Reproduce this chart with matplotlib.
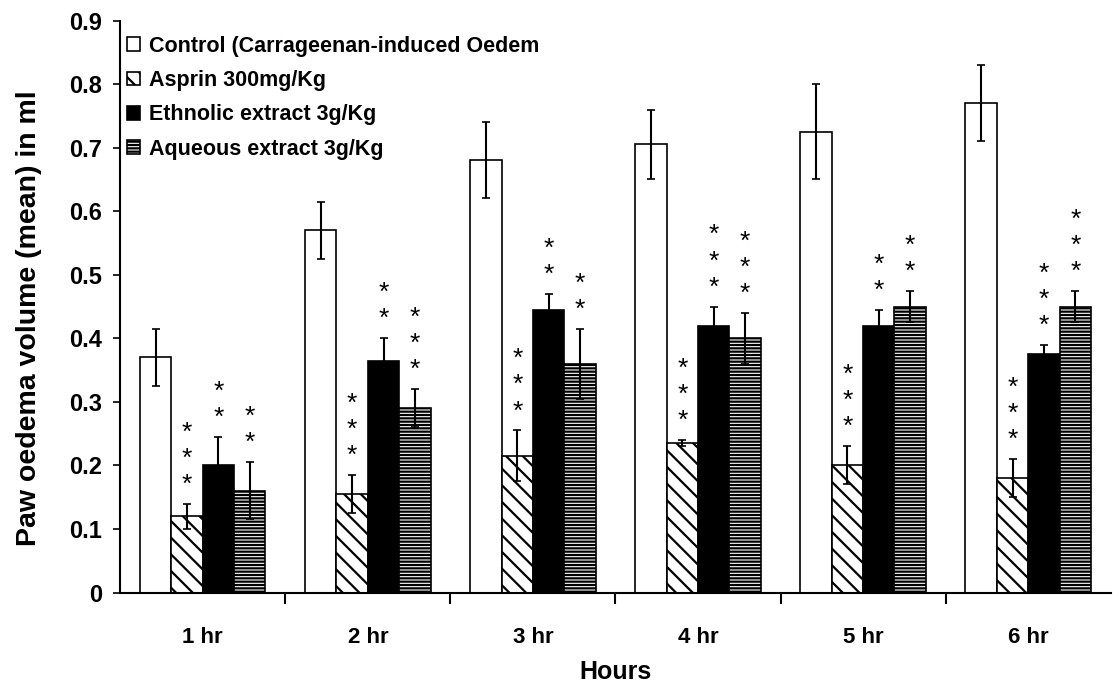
import numpy as np
import matplotlib.pyplot as plt

# data
hours = ['1 hr', '2 hr', '3 hr', '4 hr', '5 hr', '6 hr']
series = ['Control (Carrageenan-induced Oedem', 'Asprin 300mg/Kg',
          'Ethnolic extract 3g/Kg', 'Aqueous extract 3g/Kg']

control = [0.37, 0.57, 0.68, 0.705, 0.725, 0.77]
control_err = [0.045, 0.045, 0.06, 0.055, 0.075, 0.06]
asprin = [0.12, 0.155, 0.215, 0.235, 0.20, 0.18]
asprin_err = [0.02, 0.03, 0.04, 0.005, 0.03, 0.03]
ethnolic = [0.20, 0.365, 0.445, 0.42, 0.42, 0.375]
ethnolic_err = [0.045, 0.035, 0.025, 0.03, 0.025, 0.015]
aqueous = [0.16, 0.29, 0.36, 0.40, 0.45, 0.45]
aqueous_err = [0.045, 0.03, 0.055, 0.04, 0.025, 0.025]

# number of significance stars per bar (control has none)
stars_asprin = [3, 3, 3, 3, 3, 3]
stars_ethnolic = [2, 2, 2, 3, 2, 3]
stars_aqueous = [2, 3, 2, 3, 2, 3]

plt.rcParams['font.family'] = ['Liberation Sans', 'DejaVu Sans']
plt.rcParams['font.weight'] = 'bold'
plt.rcParams['hatch.linewidth'] = 1.6

fig, ax = plt.subplots(figsize=(11.13, 6.85), dpi=100)
fig.subplots_adjust(left=0.108, right=0.998, top=0.97, bottom=0.135)

x = np.arange(len(hours))
w = 0.19
offsets = [-1.5 * w, -0.5 * w, 0.5 * w, 1.5 * w]
vals = [control, asprin, ethnolic, aqueous]
errs = [control_err, asprin_err, ethnolic_err, aqueous_err]
faces = ['white', 'white', 'black', 'white']
hatches = [None, '\\\\', None, '-----']

for i in range(4):
    ax.bar(x + offsets[i], vals[i], w, yerr=errs[i], color=faces[i],
           edgecolor='black', hatch=hatches[i], linewidth=1.2,
           error_kw=dict(ecolor='black', elinewidth=1.5, capsize=3, capthick=1.2),
           label=series[i])

# significance stars stacked above each error bar
stars = [None, stars_asprin, stars_ethnolic, stars_aqueous]
for i in range(1, 4):
    for j in range(len(hours)):
        top = vals[i][j] + errs[i][j]
        for k in range(stars[i][j]):
            ax.text(x[j] + offsets[i], top + 0.03 + k * 0.041, '*',
                    ha='center', va='center', fontsize=19, fontweight='normal')

ax.set_xlim(-0.5, len(hours) - 0.5)
ax.set_ylim(0, 0.9)
ax.set_yticks(np.arange(0, 0.91, 0.1))
ax.set_yticklabels(['0'] + ['%.1f' % v for v in np.arange(0.1, 0.91, 0.1)])
ax.set_xticks(x)
ax.set_xticklabels(hours)
ax.set_xticks(np.arange(0.5, len(hours) - 0.5, 1), minor=True)
ax.tick_params(axis='x', which='major', length=0, labelsize=16, pad=25)
ax.tick_params(axis='x', which='minor', length=8, width=1.5, direction='out')
ax.tick_params(axis='y', labelsize=17, length=5, width=1.2, direction='out', pad=8)
for s in ['top', 'right']:
    ax.spines[s].set_visible(False)
for s in ['left', 'bottom']:
    ax.spines[s].set_linewidth(1.5)

ax.set_xlabel('Hours', fontsize=18, fontweight='bold')
ax.xaxis.set_label_coords(0.5, -0.118)
ax.set_ylabel('Paw oedema volume (mean) in ml', fontsize=20.5, fontweight='bold')
ax.yaxis.set_label_coords(-0.079, 0.48)

ax.legend(loc='upper left', bbox_to_anchor=(-0.008, 1.0), frameon=False, fontsize=15.5,
          handlelength=0.6, handleheight=0.6, handletextpad=0.4, labelspacing=0.62,
          borderaxespad=0.3)

plt.savefig('out.png', dpi=100)
